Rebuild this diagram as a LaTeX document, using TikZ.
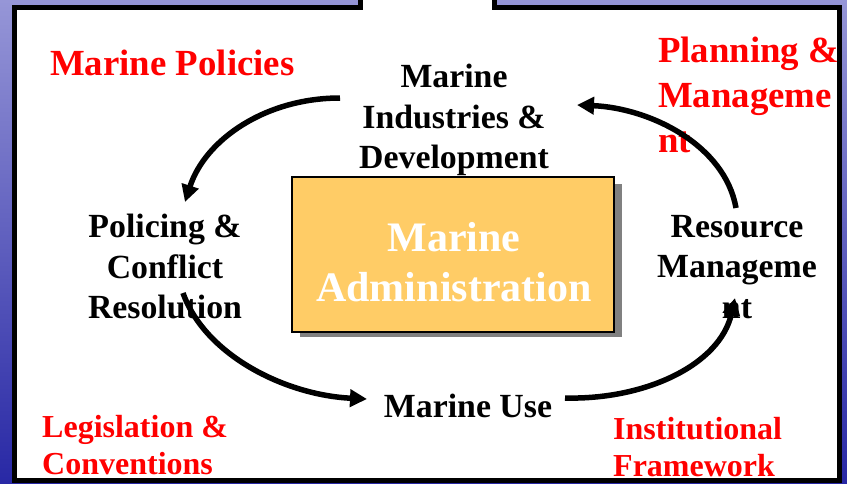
\documentclass[tikz,border=0pt]{standalone}
\usepackage{fontspec}
\setmainfont{Liberation Serif}
\usetikzlibrary{arrows.meta}
\definecolor{boxfill}{RGB}{255,204,102}
\definecolor{bgtop}{RGB}{150,150,215}
\definecolor{bgbot}{RGB}{40,40,165}
\definecolor{shadowgray}{RGB}{128,128,128}
\begin{document}
\begin{tikzpicture}[x=1pt,y=-1pt,
  blk/.style={font=\fontsize{33.8}{40.5}\selectfont\bfseries, align=center, inner sep=0pt},
  redtop/.style={font=\fontsize{36.8}{45}\selectfont\bfseries, text=red, align=left, inner sep=0pt},
  redbot/.style={font=\fontsize{32}{37.5}\selectfont\bfseries, text=red, align=left, inner sep=0pt},
  whitetxt/.style={font=\fontsize{42}{50}\selectfont\bfseries, text=white, align=center, inner sep=0pt},
  arr/.style={line width=5.5pt, -{Triangle[length=17pt,width=17pt]}}]
\useasboundingbox (0,0) rectangle (847,483);
\shade[top color=bgtop,bottom color=bgbot] (0,0) rectangle (847,483);
% white frame with tab
\fill[white] (360,-5) -- (360,7.5) -- (14.5,7.5) -- (14.5,480) -- (839.5,480) -- (839.5,7.5) -- (494,7.5) -- (494,-5) -- cycle;
\draw[line width=5pt] (360,-5) -- (360,7.5) -- (14.5,7.5) -- (14.5,480) -- (839.5,480) -- (839.5,7.5) -- (494,7.5) -- (494,-5);
% central box
\fill[shadowgray] (300,184) rectangle (622,337);
\draw[fill=boxfill, line width=1.5pt] (292,177) rectangle (614,332);
\node[whitetxt, anchor=north] (admin) at (454,222) {Marine\\Administration};
% labels
\node[redtop, anchor=base west] (policies) at (50,75) {Marine Policies};
\node[redtop, anchor=north west] (planning) at (658,37) {Planning \&\\Manageme\\nt};
\node[redbot, anchor=north west] (legis) at (42,415) {Legislation \&\\Conventions};
\node[redbot, anchor=north west] (inst) at (613,417) {Institutional\\Framework};
% cycle nodes
\node[blk, anchor=north] (industries) at (454,64) {Marine\\Industries \&\\Development};
\node[blk, anchor=north] (policing) at (165,214) {Policing \&\\Conflict\\Resolution};
\node[blk, anchor=north] (resource) at (737,215) {Resource\\Manageme\\nt};
\node[blk, anchor=base] (use) at (468,417) {Marine Use};
% arrow end points
\coordinate (a1s) at (340,98);
\coordinate (a1e) at (185,202);
\coordinate (a2s) at (183,293);
\coordinate (a2e) at (367,399);
\coordinate (a3s) at (565,398);
\coordinate (a3e) at (735,298);
\coordinate (a4s) at (736,208);
\coordinate (a4e) at (577,105);
\draw[arr] (a1s) .. controls (265,98) and (205,140) .. (a1e);
\draw[arr] (a2s) .. controls (205,355) and (285,395) .. (a2e);
\draw[arr] (a3s) .. controls (645,400) and (720,365) .. (a3e);
\draw[arr] (a4s) .. controls (725,145) and (650,108) .. (a4e);
\end{tikzpicture}
\end{document}
